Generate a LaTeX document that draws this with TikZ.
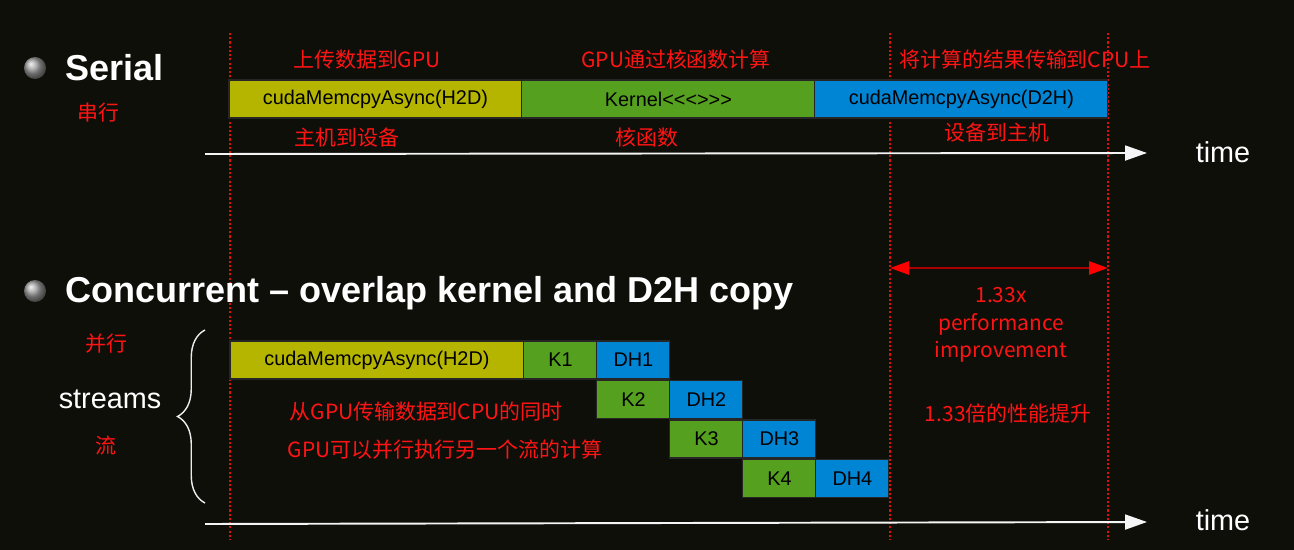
\documentclass[tikz,border=0pt]{standalone}
\usepackage{fontspec}
\setmainfont{Liberation Sans}
\newfontfamily\cjk{Noto Sans CJK SC}
\usetikzlibrary{positioning, arrows.meta, decorations.pathreplacing, shadings}

\definecolor{bgcol}{RGB}{15,15,10}
\definecolor{hdcol}{RGB}{181,181,0}
\definecolor{kcol}{RGB}{85,160,30}
\definecolor{dhcol}{RGB}{0,132,212}
\definecolor{lblred}{RGB}{255,20,20}
\definecolor{darkred}{RGB}{170,0,0}

\begin{document}
\begin{tikzpicture}[x=0.02cm, y=-0.02cm,
  box/.style={draw=black!85, line width=0.6pt, inner sep=0pt, outer sep=0pt, minimum height=0.76cm,
    text=black, font=\fontsize{11.3}{13}\selectfont},
  longbox/.style={box, minimum width=5.86cm},
  kbox/.style={box, fill=kcol, minimum width=1.46cm},
  dbox/.style={box, fill=dhcol, minimum width=1.46cm},
  bullet/.style={circle, minimum size=0.44cm, inner sep=0pt, shading=ball, ball color=gray!75},
  title/.style={anchor=west, text=white, font=\fontsize{20.5}{24}\selectfont\bfseries},
  redlbl/.style={text=lblred, font=\cjk\fontsize{11.9}{15.6}\selectfont},
  whitelbl/.style={text=white, font=\fontsize{16.4}{19}\selectfont},
  guide/.style={lblred!85!black, line width=0.6pt, dash pattern=on 1.2pt off 1.2pt},
  axis/.style={white!92!gray, line width=1.1pt, -{Triangle[length=0.44cm, width=0.3cm]}},
  gain/.style={darkred, line width=1.5pt,
    {Triangle[length=0.38cm, width=0.26cm, color=red]}-{Triangle[length=0.38cm, width=0.26cm, color=red]}}
]
  \useasboundingbox (0,0) rectangle (1294,550);
  \fill[bgcol] (0,0) rectangle (1294,550);

  % guides
  \draw[guide] (230,33) -- (230,540);
  \draw[guide] (890,33) -- (890,540);
  \draw[guide] (1108,33) -- (1108,540);

  % serial
  \node[bullet] (bul1) at (35,68) {};
  \node[title] (serial) at (59,68) {Serial};
  \node[redlbl] (chuan) at (98,113) {串行};

  \node[longbox, fill=hdcol, anchor=north west] (sh2d) at (229,80) {cudaMemcpyAsync(H2D)};
  \node[longbox, fill=kcol, right=0pt of sh2d] (skern) {Kernel<\kern0pt<\kern0pt<\kern0pt>\kern0pt>\kern0pt>};
  \node[longbox, fill=dhcol, right=0pt of skern] (sd2h) {cudaMemcpyAsync(D2H)};

  \node[redlbl] (up) at (367,60) {上传数据到GPU};
  \node[redlbl] (calc) at (676,60) {GPU通过核函数计算};
  \node[redlbl] (back) at (1025,60) {将计算的结果传输到CPU上};
  \node[redlbl] (hd) at (347,138) {主机到设备};
  \node[redlbl] (hs) at (647,138) {核函数};
  \node[redlbl] (dh) at (997,133) {设备到主机};

  \coordinate (ax1s) at (205,154);
  \coordinate (ax1e) at (1147,153);
  \draw[axis] (ax1s) -- (ax1e);
  \node[whitelbl] (time1) at (1223,152) {time};

  % gain
  \coordinate (gl) at (890,268);
  \coordinate (gr) at (1108,268);
  \draw[gain] (gl) -- (gr);
  \node[redlbl, align=center] (perf) at (1001,325) {1.33x\\performance\\improvement};
  \node[redlbl] (perfcn) at (1008,413) {1.33倍的性能提升};

  % concurrent
  \node[bullet] (bul2) at (35,291) {};
  \node[title] (conc) at (59,293) {Concurrent – overlap kernel and D2H copy};
  \node[redlbl] (bing) at (106,344) {并行};
  \node[whitelbl] (streams) at (110,399) {streams};
  \node[redlbl] (liu) at (106,446) {流};
  \draw[white!85!gray, line width=0.8pt, decorate, decoration={brace, amplitude=0.55cm}]
    (205,503) -- (205,330);

  \node[longbox, fill=hdcol, minimum width=5.88cm, anchor=north west] (ch2d) at (230,341) {cudaMemcpyAsync(H2D)};
  \node[kbox, right=0pt of ch2d] (k1) {K1};
  \node[dbox, right=0pt of k1] (dh1) {DH1};
  \node[kbox, below=0.03cm of dh1] (k2) {K2};
  \node[dbox, right=0pt of k2] (dh2) {DH2};
  \node[kbox, below=0.03cm of dh2] (k3) {K3};
  \node[dbox, right=0pt of k3] (dh3) {DH3};
  \node[kbox, below=0.03cm of dh3] (k4) {K4};
  \node[dbox, right=0pt of k4] (dh4) {DH4};

  \node[redlbl] (note1) at (426,412) {从GPU传输数据到CPU的同时};
  \node[redlbl] (note2) at (445,450) {GPU可以并行执行另一个流的计算};

  \coordinate (ax2s) at (205,524);
  \coordinate (ax2e) at (1147,522);
  \draw[axis] (ax2s) -- (ax2e);
  \node[whitelbl] (time2) at (1223,520) {time};
\end{tikzpicture}
\end{document}
